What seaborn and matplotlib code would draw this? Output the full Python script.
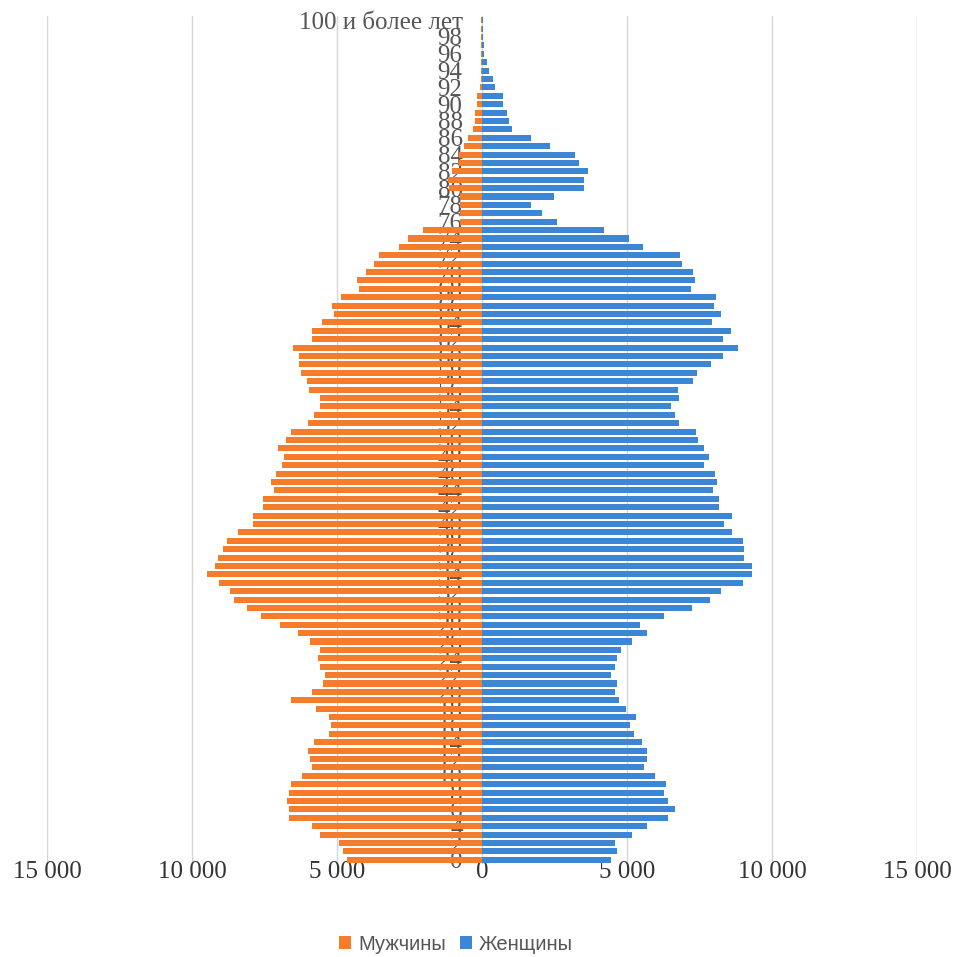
import matplotlib
matplotlib.use("Agg")
import matplotlib.pyplot as plt
import seaborn as sns
import pandas as pd
from matplotlib.patches import Patch

# ---- data -------------------------------------------------------------
age_labels = [str(i) for i in range(100)] + ["100 и более лет"]

male = [4640, 4780, 4930, 5570, 5860, 6650, 6650, 6720, 6650, 6580,
        6220, 5860, 5930, 6000, 5790, 5290, 5220, 5290, 5720, 6580,
        5860, 5500, 5430, 5570, 5650, 5570, 5930, 6360, 6970, 7610,
        8120, 8550, 8690, 9070, 9500, 9210, 9120, 8920, 8780, 8420,
        7900, 7900, 7540, 7540, 7180, 7260, 7110, 6900, 6820, 7040,
        6750, 6580, 6000, 5800, 5580, 5580, 5950, 6020, 6240, 6320,
        6320, 6530, 5870, 5870, 5520, 5090, 5170, 4870, 4230, 4300,
        4010, 3710, 3550, 2850, 2550, 2050, 760, 760, 760, 760,
        1130, 1160, 1050, 780, 780, 610, 470, 320, 240, 230,
        160, 160, 60, 50, 50, 50, 40, 40, 40, 30,
        50]

female = [4450, 4660, 4600, 5170, 5680, 6420, 6670, 6420, 6290, 6350,
          5960, 5600, 5680, 5680, 5530, 5240, 5090, 5320, 4960, 4740,
          4600, 4660, 4450, 4600, 4660, 4800, 5170, 5680, 5460, 6280,
          7240, 7870, 8250, 8990, 9320, 9320, 9050, 9050, 8990, 8620,
          8330, 8620, 8180, 8180, 7960, 8100, 8030, 7670, 7820, 7670,
          7460, 7370, 6780, 6660, 6520, 6800, 6770, 7290, 7430, 7890,
          8300, 8820, 8300, 8590, 7940, 8230, 8010, 8080, 7210, 7360,
          7290, 6910, 6840, 5540, 5080, 4220, 2570, 2060, 1680, 2480,
          3510, 3510, 3640, 3360, 3210, 2340, 1690, 1020, 940, 870,
          740, 740, 450, 370, 250, 160, 80, 60, 50, 30,
          30]

series_names = ["Мужчины", "Женщины"]
series_colors = ["#F47C2A", "#3B87D5"]
x_ticks = [-15000, -10000, -5000, 0, 5000, 10000, 15000]

# ---- build table ------------------------------------------------------
df = pd.DataFrame({
    "age": age_labels * 2,
    "value": [-v for v in male] + female,
    "sex": [series_names[0]] * len(male) + [series_names[1]] * len(female),
})
order = age_labels[::-1]

# ---- plot -------------------------------------------------------------
sns.set_theme(style="white")
plt.rcParams["font.family"] = ["Liberation Serif", "DejaVu Serif"]

fig = plt.figure(figsize=(9.61, 9.57), dpi=100)
ax = fig.add_axes([47 / 961, 1 - 864 / 957, 870 / 961, 848 / 957])

sns.barplot(data=df, x="value", y="age", hue="sex", order=order,
            hue_order=series_names, palette=series_colors, dodge=False,
            width=0.72, saturation=1, errorbar=None, linewidth=0, ax=ax)

# move the y axis to the centre first (this resets ticks)
ax.spines["left"].set_position(("data", 0))
for s in ["top", "right", "bottom", "left"]:
    ax.spines[s].set_visible(False)

ax.set_xlim(-15000, 15000)
ax.set_xticks(x_ticks)
ax.set_xticklabels([f"{abs(v):,}".replace(",", " ") for v in x_ticks])
ax.tick_params(axis="x", length=0, pad=-2, labelsize=18, labelcolor="#333333")

even_pos = [order.index(a) for a in age_labels if a == age_labels[-1] or int(a) % 2 == 0]
ax.set_yticks(even_pos)
ax.set_yticklabels([order[p] for p in even_pos])
ax.tick_params(axis="y", length=0, pad=14, labelsize=18, labelcolor="#555555")

ax.set_axisbelow(True)
ax.xaxis.grid(True, color="#d6d6d6", linewidth=1.0)
ax.yaxis.grid(False)
ax.set_xlabel("")
ax.set_ylabel("")

if ax.legend_ is not None:
    ax.legend_.remove()
handles = [Patch(facecolor=c, edgecolor="none") for c in series_colors]
fig.legend(handles, series_names, loc="center", bbox_to_anchor=(456 / 961, 1 - 944 / 957),
           ncol=2, frameon=False, handlelength=0.6, handleheight=0.6,
           handletextpad=0.35, columnspacing=0.7,
           prop={"family": "Liberation Sans", "size": 14.5}, labelcolor="#555555")

fig.savefig("out.png", dpi=100)
